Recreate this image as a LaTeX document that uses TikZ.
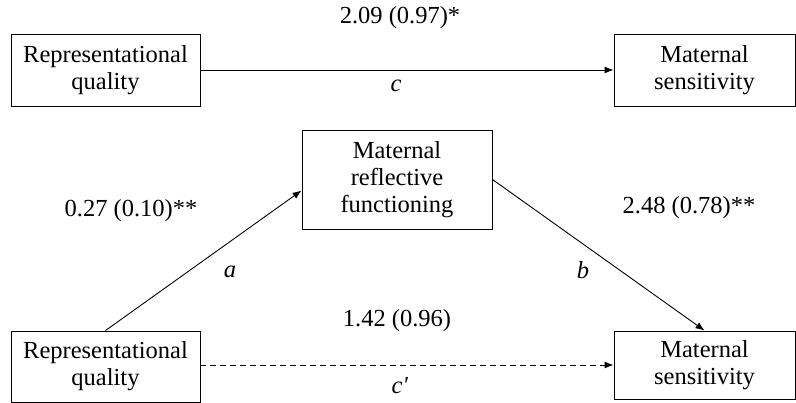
\documentclass[tikz,border=0pt]{standalone}
\usepackage{fontspec}
\setmainfont{Liberation Serif}
\usetikzlibrary{positioning,arrows.meta,calc}

\begin{document}
\begin{tikzpicture}[x=1pt, y=-1pt,
  var box/.style={draw=black, line width=0.9pt, align=center, inner sep=2pt, font=\fontsize{24.5}{27}\selectfont},
  path arrow/.style={-{Latex[length=9pt,width=7pt]}, line width=0.9pt},
  coef label/.style={font=\fontsize{24.5}{27}\selectfont, inner sep=0pt}
]
\useasboundingbox (0,0) rectangle (796,403);

% total effect
\node[var box, minimum width=189pt, minimum height=72pt] (rq top) at (105.5,70) {Representational\\quality};
\node[var box, minimum width=181pt, minimum height=72pt] (ms top) at (704.5,70) {Maternal\\sensitivity};
\draw[path arrow] (rq top.east) -- (ms top.west);
\node[coef label] (c label) at (400,18) {2.09 (0.97)*};
\node[coef label] (c path) at (396,86) {\textit{c}};

% mediation model
\node[var box, minimum width=190pt, minimum height=99pt] (mrf) at (397,179.5) {Maternal\\reflective\\functioning};
\node[var box, minimum width=189pt, minimum height=71pt] (rq) at (105.5,366.5) {Representational\\quality};
\node[var box, minimum width=181pt, minimum height=68pt] (ms) at (704.5,365) {Maternal\\sensitivity};

\draw[path arrow] (rq.north) -- ([yshift=-11pt]mrf.west);
\draw[path arrow] (mrf.east) -- (ms.north);
\draw[path arrow, dash pattern=on 6pt off 4pt] (rq.east |- ms.west) -- (ms.west);

\node[coef label] (a label) at (131,211) {0.27 (0.10)**};
\node[coef label] (a path) at (230,272) {\textit{a}};
\node[coef label] (b label) at (689,208) {2.48 (0.78)**};
\node[coef label] (b path) at (583,270) {\textit{b}};
\node[coef label] (cp label) at (397,321) {1.42 (0.96)};
\node[coef label] (cp path) at (400,386) {\textit{c′}};
\end{tikzpicture}
\end{document}
